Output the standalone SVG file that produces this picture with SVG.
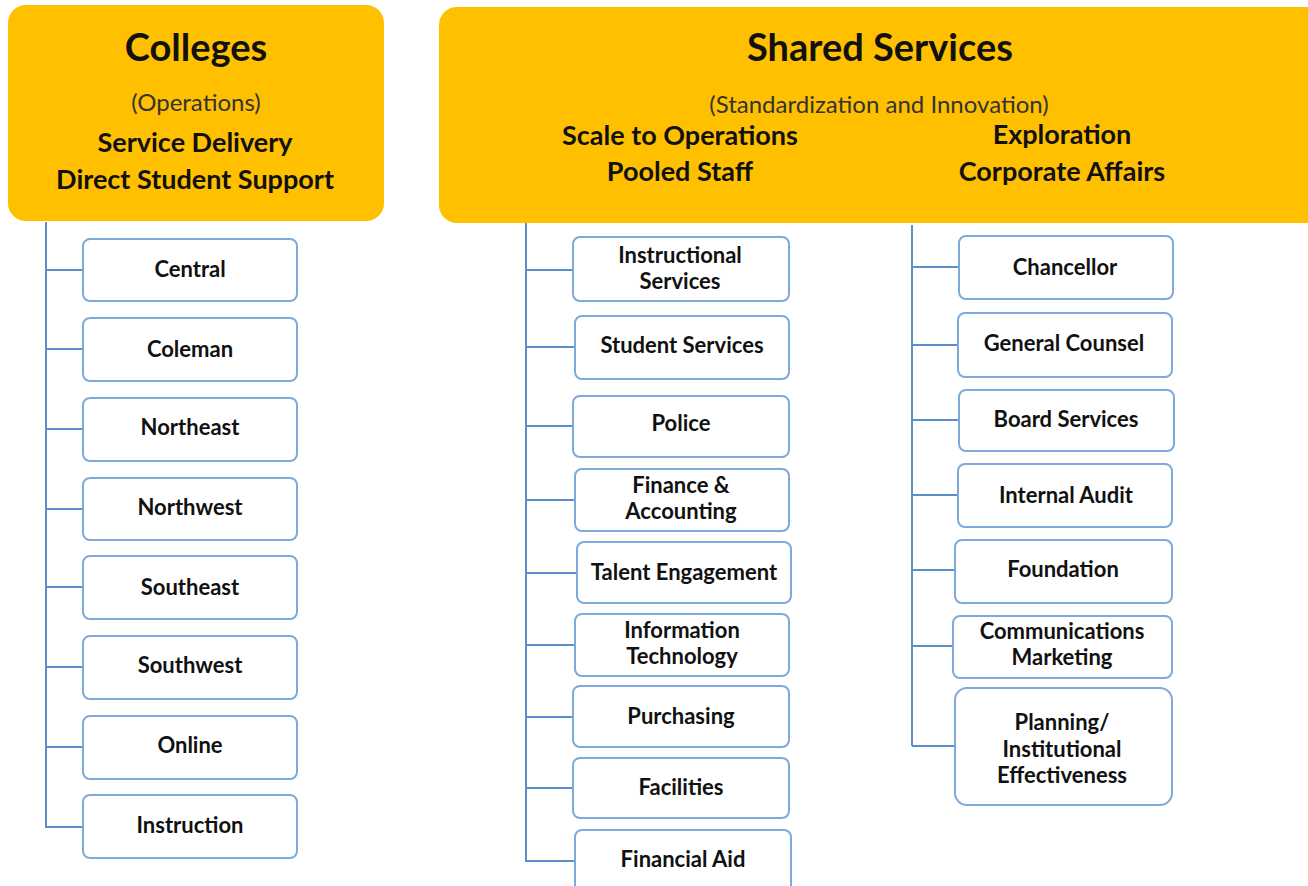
<svg xmlns="http://www.w3.org/2000/svg" width="1308" height="886" viewBox="0 0 1308 886">
<style>
.hdr{fill:#FFC000;}
.box{fill:#FFFFFF;stroke:#7EAADB;stroke-width:2;}
.ln{stroke:#5B8FC9;stroke-width:2;fill:none;}
text{font-family:Lato,"Open Sans","Liberation Sans",sans-serif;fill:#111;text-anchor:middle;}
.t1{font-size:38px;font-weight:bold;}
.t2{font-size:24px;font-weight:normal;fill:#333;}
.t3{font-size:27px;font-weight:bold;}
.n{font-size:22px;font-weight:bold;}
</style>
<rect width="1308" height="886" fill="#FFFFFF"/>
<g id="colleges">
<rect class="hdr" x="8" y="5" width="376" height="216" rx="18"/>
<text class="t1" x="196" y="61">Colleges</text>
<text class="t2" x="196" y="111">(Operations)</text>
<text class="t3" x="195" y="152">Service Delivery</text>
<text class="t3" x="195" y="189">Direct Student Support</text>
</g>
<g id="shared-services">
<rect class="hdr" x="439" y="7" width="890" height="216" rx="18"/>
<text class="t1" x="880" y="61">Shared Services</text>
<text class="t2" x="879" y="113">(Standardization and Innovation)</text>
<text class="t3" x="680" y="145">Scale to Operations</text>
<text class="t3" x="680" y="181">Pooled Staff</text>
<text class="t3" x="1062" y="144">Exploration</text>
<text class="t3" x="1062" y="181">Corporate Affairs</text>
</g>
<g id="connectors">
<path class="ln" d="M46 222 V828 M46 270 H83 M46 349 H83 M46 429 H83 M46 509 H83 M46 587 H83 M46 667 H83 M46 747 H83 M46 827 H83"/>
<path class="ln" d="M526 223 V862 M526 270 H573 M526 347 H575 M526 426 H573 M526 500 H575 M526 573 H577 M526 645 H575 M526 717 H573 M526 788 H573 M526 861 H575"/>
<path class="ln" d="M912 225 V746 M912 267 H959 M912 345 H958 M912 420 H959 M912 495 H958 M912 570 H955 M912 646 H953 M912 746 H955"/>
</g>
<g id="central"><rect class="box" x="83" y="239" width="214" height="62" rx="7"/><text class="n" x="190" y="277">Central</text></g>
<g id="coleman"><rect class="box" x="83" y="318" width="214" height="63" rx="7"/><text class="n" x="190" y="357">Coleman</text></g>
<g id="northeast"><rect class="box" x="83" y="398" width="214" height="63" rx="7"/><text class="n" x="190" y="435">Northeast</text></g>
<g id="northwest"><rect class="box" x="83" y="478" width="214" height="62" rx="7"/><text class="n" x="190" y="515">Northwest</text></g>
<g id="southeast"><rect class="box" x="83" y="556" width="214" height="63" rx="7"/><text class="n" x="190" y="595">Southeast</text></g>
<g id="southwest"><rect class="box" x="83" y="636" width="214" height="63" rx="7"/><text class="n" x="190" y="673">Southwest</text></g>
<g id="online"><rect class="box" x="83" y="716" width="214" height="63" rx="7"/><text class="n" x="190" y="753">Online</text></g>
<g id="instruction"><rect class="box" x="83" y="795" width="214" height="63" rx="7"/><text class="n" x="190" y="833">Instruction</text></g>

<g id="instructional-services"><rect class="box" x="573" y="237" width="216" height="64" rx="7"/><text class="n" x="680" y="263">Instructional</text><text class="n" x="680" y="289">Services</text></g>
<g id="student-services"><rect class="box" x="575" y="316" width="214" height="63" rx="7"/><text class="n" x="682" y="353">Student Services</text></g>
<g id="police"><rect class="box" x="573" y="396" width="216" height="61" rx="7"/><text class="n" x="681" y="431">Police</text></g>
<g id="finance"><rect class="box" x="575" y="469" width="214" height="62" rx="7"/><text class="n" x="681" y="493">Finance &amp;</text><text class="n" x="681" y="519">Accounting</text></g>
<g id="talent"><rect class="box" x="577" y="542" width="214" height="61" rx="7"/><text class="n" x="684" y="580">Talent Engagement</text></g>
<g id="it"><rect class="box" x="575" y="614" width="214" height="62" rx="7"/><text class="n" x="682" y="638">Information</text><text class="n" x="682" y="664">Technology</text></g>
<g id="purchasing"><rect class="box" x="573" y="686" width="216" height="61" rx="7"/><text class="n" x="681" y="724">Purchasing</text></g>
<g id="facilities"><rect class="box" x="573" y="758" width="216" height="60" rx="7"/><text class="n" x="681" y="795">Facilities</text></g>
<g id="financial-aid"><rect class="box" x="575" y="830" width="216" height="70" rx="7"/><text class="n" x="683" y="867">Financial Aid</text></g>

<g id="chancellor"><rect class="box" x="959" y="236" width="214" height="63" rx="7"/><text class="n" x="1065" y="275">Chancellor</text></g>
<g id="general-counsel"><rect class="box" x="958" y="313" width="214" height="64" rx="7"/><text class="n" x="1064" y="351">General Counsel</text></g>
<g id="board-services"><rect class="box" x="959" y="390" width="215" height="61" rx="7"/><text class="n" x="1066" y="427">Board Services</text></g>
<g id="internal-audit"><rect class="box" x="958" y="464" width="214" height="63" rx="7"/><text class="n" x="1066" y="503">Internal Audit</text></g>
<g id="foundation"><rect class="box" x="955" y="540" width="217" height="63" rx="7"/><text class="n" x="1063" y="577">Foundation</text></g>
<g id="communications"><rect class="box" x="953" y="616" width="219" height="62" rx="7"/><text class="n" x="1062" y="639">Communications</text><text class="n" x="1062" y="665">Marketing</text></g>
<g id="planning"><rect class="box" x="955" y="688" width="217" height="117" rx="12"/><text class="n" x="1062" y="730">Planning/</text><text class="n" x="1062" y="757">Institutional</text><text class="n" x="1062" y="783">Effectiveness</text></g>
</svg>
